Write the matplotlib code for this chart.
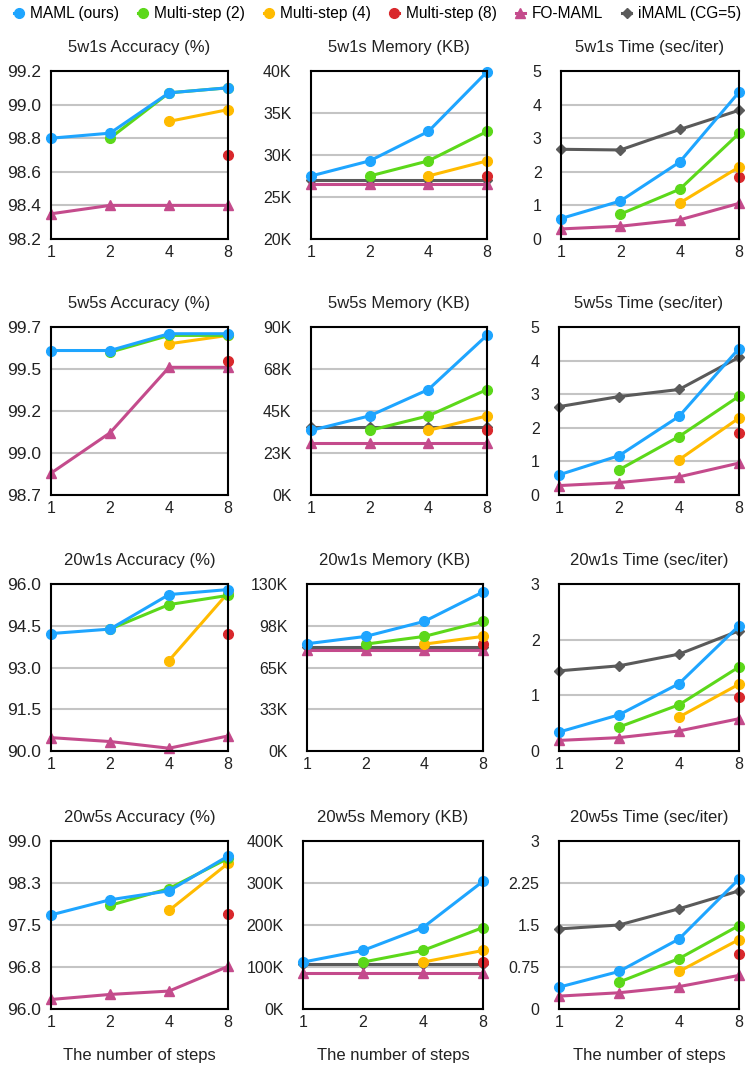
import matplotlib
matplotlib.use('Agg')
import matplotlib.pyplot as plt
import numpy as np

plt.rcParams['font.family'] = ['Liberation Sans', 'DejaVu Sans']

nan = np.nan
steps = ['1', '2', '4', '8']
methods = ['MAML (ours)', 'Multi-step (2)', 'Multi-step (4)', 'Multi-step (8)', 'FO-MAML', 'iMAML (CG=5)']
colors = ['#1ea5ff', '#5cd81a', '#ffbb00', '#d9282c', '#c44b8c', '#5a5a5a']
markers = ['o', 'o', 'o', 'o', '^', 'D']
zorders = [9, 8, 7, 6, 5, 4]

# ---- 5-way 1-shot ----
acc_5w1s = {
    'MAML (ours)':    [98.80, 98.83, 99.07, 99.10],
    'Multi-step (2)': [nan, 98.80, 99.07, 99.10],
    'Multi-step (4)': [nan, nan, 98.90, 98.97],
    'Multi-step (8)': [nan, nan, nan, 98.70],
    'FO-MAML':        [98.35, 98.40, 98.40, 98.40],
}
mem_5w1s = {  # thousands of KB
    'MAML (ours)':    [27.5, 29.3, 32.8, 39.9],
    'Multi-step (2)': [nan, 27.5, 29.3, 32.8],
    'Multi-step (4)': [nan, nan, 27.5, 29.3],
    'Multi-step (8)': [nan, nan, nan, 27.5],
    'FO-MAML':        [26.6, 26.6, 26.6, 26.6],
    'iMAML (CG=5)':   [27.0, 27.0, 27.0, 27.0],
}
time_5w1s = {
    'MAML (ours)':    [0.61, 1.13, 2.29, 4.37],
    'Multi-step (2)': [nan, 0.74, 1.48, 3.14],
    'Multi-step (4)': [nan, nan, 1.07, 2.14],
    'Multi-step (8)': [nan, nan, nan, 1.86],
    'FO-MAML':        [0.30, 0.38, 0.57, 1.06],
    'iMAML (CG=5)':   [2.67, 2.65, 3.26, 3.83],
}

# ---- 5-way 5-shot ----
acc_5w5s = {
    'MAML (ours)':    [99.61, 99.61, 99.71, 99.71],
    'Multi-step (2)': [nan, 99.60, 99.70, 99.70],
    'Multi-step (4)': [nan, nan, 99.65, 99.70],
    'Multi-step (8)': [nan, nan, nan, 99.55],
    'FO-MAML':        [98.88, 99.12, 99.51, 99.51],
}
mem_5w5s = {
    'MAML (ours)':    [34.6, 42.4, 56.5, 85.6],
    'Multi-step (2)': [nan, 34.6, 42.4, 56.5],
    'Multi-step (4)': [nan, nan, 34.6, 42.4],
    'Multi-step (8)': [nan, nan, nan, 34.6],
    'FO-MAML':        [28.0, 28.0, 28.0, 28.0],
    'iMAML (CG=5)':   [36.4, 36.4, 36.4, 36.4],
}
time_5w5s = {
    'MAML (ours)':    [0.60, 1.17, 2.34, 4.36],
    'Multi-step (2)': [nan, 0.75, 1.74, 2.94],
    'Multi-step (4)': [nan, nan, 1.05, 2.29],
    'Multi-step (8)': [nan, nan, nan, 1.84],
    'FO-MAML':        [0.28, 0.37, 0.54, 0.95],
    'iMAML (CG=5)':   [2.63, 2.93, 3.14, 4.10],
}

# ---- 20-way 1-shot ----
acc_20w1s = {
    'MAML (ours)':    [94.22, 94.38, 95.62, 95.80],
    'Multi-step (2)': [nan, 94.38, 95.26, 95.59],
    'Multi-step (4)': [nan, nan, 93.25, 95.68],
    'Multi-step (8)': [nan, nan, nan, 94.22],
    'FO-MAML':        [90.48, 90.34, 90.10, 90.54],
}
mem_20w1s = {
    'MAML (ours)':    [83.5, 89.2, 100.9, 123.8],
    'Multi-step (2)': [nan, 83.2, 89.2, 100.9],
    'Multi-step (4)': [nan, nan, 83.2, 89.2],
    'Multi-step (8)': [nan, nan, nan, 83.0],
    'FO-MAML':        [78.5, 78.5, 78.5, 78.5],
    'iMAML (CG=5)':   [80.6, 80.6, 80.6, 80.6],
}
time_20w1s = {
    'MAML (ours)':    [0.34, 0.65, 1.21, 2.25],
    'Multi-step (2)': [nan, 0.43, 0.83, 1.51],
    'Multi-step (4)': [nan, nan, 0.61, 1.20],
    'Multi-step (8)': [nan, nan, nan, 0.97],
    'FO-MAML':        [0.19, 0.24, 0.36, 0.58],
    'iMAML (CG=5)':   [1.44, 1.53, 1.74, 2.16],
}

# ---- 20-way 5-shot ----
acc_20w5s = {
    'MAML (ours)':    [97.68, 97.95, 98.11, 98.73],
    'Multi-step (2)': [nan, 97.85, 98.15, 98.69],
    'Multi-step (4)': [nan, nan, 97.76, 98.60],
    'Multi-step (8)': [nan, nan, nan, 97.70],
    'FO-MAML':        [96.17, 96.26, 96.32, 96.76],
}
mem_20w5s = {
    'MAML (ours)':    [111.7, 139.4, 194.0, 304.0],
    'Multi-step (2)': [nan, 111.7, 139.4, 194.0],
    'Multi-step (4)': [nan, nan, 111.7, 139.4],
    'Multi-step (8)': [nan, nan, nan, 111.7],
    'FO-MAML':        [86.3, 86.3, 86.3, 86.3],
    'iMAML (CG=5)':   [107.0, 107.0, 107.0, 107.0],
}
time_20w5s = {
    'MAML (ours)':    [0.39, 0.67, 1.25, 2.32],
    'Multi-step (2)': [nan, 0.48, 0.90, 1.49],
    'Multi-step (4)': [nan, nan, 0.67, 1.24],
    'Multi-step (8)': [nan, nan, nan, 0.99],
    'FO-MAML':        [0.23, 0.29, 0.40, 0.60],
    'iMAML (CG=5)':   [1.43, 1.50, 1.79, 2.11],
}

# (title, data, yticks, ytick labels)
panels = [
    [('5w1s Accuracy (%)', acc_5w1s, [98.2, 98.4, 98.6, 98.8, 99.0, 99.2],
      ['98.2', '98.4', '98.6', '98.8', '99.0', '99.2']),
     ('5w1s Memory (KB)', mem_5w1s, [20, 25, 30, 35, 40],
      ['20K', '25K', '30K', '35K', '40K']),
     ('5w1s Time (sec/iter)', time_5w1s, [0, 1, 2, 3, 4, 5],
      ['0', '1', '2', '3', '4', '5'])],
    [('5w5s Accuracy (%)', acc_5w5s, [98.75, 99.0, 99.25, 99.5, 99.75],
      ['98.7', '99.0', '99.2', '99.5', '99.7']),
     ('5w5s Memory (KB)', mem_5w5s, [0, 22.5, 45, 67.5, 90],
      ['0K', '23K', '45K', '68K', '90K']),
     ('5w5s Time (sec/iter)', time_5w5s, [0, 1, 2, 3, 4, 5],
      ['0', '1', '2', '3', '4', '5'])],
    [('20w1s Accuracy (%)', acc_20w1s, [90.0, 91.5, 93.0, 94.5, 96.0],
      ['90.0', '91.5', '93.0', '94.5', '96.0']),
     ('20w1s Memory (KB)', mem_20w1s, [0, 32.5, 65, 97.5, 130],
      ['0K', '33K', '65K', '98K', '130K']),
     ('20w1s Time (sec/iter)', time_20w1s, [0, 1, 2, 3],
      ['0', '1', '2', '3'])],
    [('20w5s Accuracy (%)', acc_20w5s, [96.0, 96.75, 97.5, 98.25, 99.0],
      ['96.0', '96.8', '97.5', '98.3', '99.0']),
     ('20w5s Memory (KB)', mem_20w5s, [0, 100, 200, 300, 400],
      ['0K', '100K', '200K', '300K', '400K']),
     ('20w5s Time (sec/iter)', time_20w5s, [0, 0.75, 1.5, 2.25, 3],
      ['0', '0.75', '1.5', '2.25', '3'])],
]

W, H = 748, 1065
row_tb = [(71, 239), (327, 495), (584, 751), (841, 1009)]
col_lr = [
    [(51, 228), (311, 487), (561, 739)],
    [(51, 228), (311, 487), (559, 739)],
    [(51, 228), (307, 483), (559, 739)],
    [(51, 228), (303, 483), (559, 739)],
]

fig = plt.figure(figsize=(W / 100, H / 100), dpi=100)
x = np.arange(len(steps))
handles = None

for r in range(4):
    top, bot = row_tb[r]
    for c in range(3):
        left, right = col_lr[r][c]
        ax = fig.add_axes([left / W, 1 - bot / H, (right - left) / W, (bot - top) / H])
        title, data, yt, ytl = panels[r][c]
        lines = []
        for name, col, mk, z in zip(methods, colors, markers, zorders):
            if name not in data:
                continue
            ms = 5.5 if mk == 'D' else 7.5 if mk == '^' else 7
            ln, = ax.plot(x, data[name], color=col, marker=mk, lw=2.2, ms=ms,
                          clip_on=False, zorder=z, label=name)
            lines.append(ln)
        if len(lines) == 6 and handles is None:
            handles = lines
        ax.set_xlim(0, 3)
        ax.set_ylim(yt[0], yt[-1])
        ax.set_xticks(x)
        ax.set_xticklabels(steps)
        ax.set_yticks(yt)
        ax.set_yticklabels(ytl)
        ax.yaxis.grid(True, color='#c4c4c4', lw=1.5)
        ax.set_axisbelow(True)
        ax.tick_params(length=0, labelsize=11.5, colors='#222222')
        ax.tick_params(axis='x', pad=4)
        if c == 0:
            ax.tick_params(axis='y', pad=7, labelsize=12.5)
        else:
            ax.tick_params(axis='y', pad=14)
        for s in ax.spines.values():
            s.set_linewidth(1.5)
            s.set_color('black')
            s.set_zorder(10)
        ax.set_title(title, fontsize=12, pad=14, color='#222222')
        if r == 3:
            ax.set_xlabel('The number of steps', fontsize=12, labelpad=13, color='#222222')

fig.legend(handles, methods, loc='upper center', bbox_to_anchor=(0.505, 1.003), ncol=6,
           frameon=False, handlelength=0.6, handletextpad=0.45, columnspacing=1.2,
           fontsize=11.2, borderaxespad=0.2)

fig.savefig('out.png', dpi=100)
